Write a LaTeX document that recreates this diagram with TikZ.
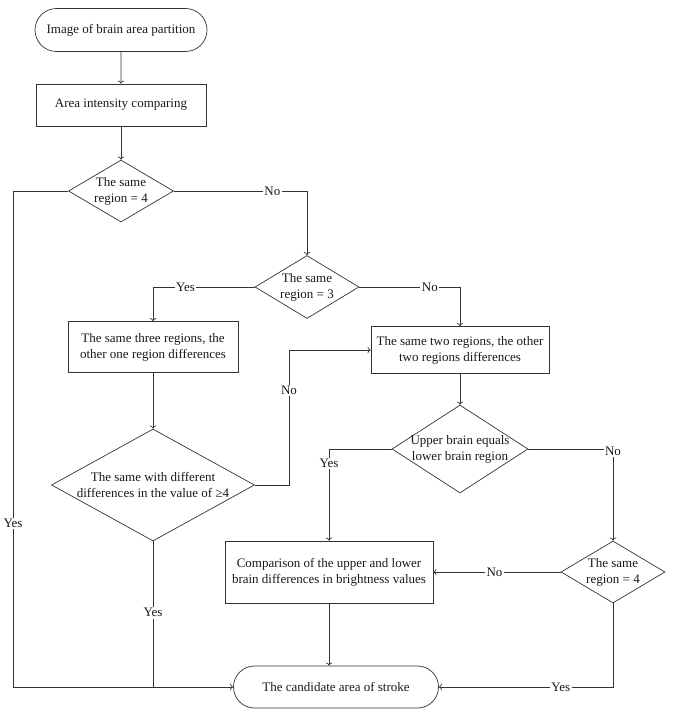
\documentclass[tikz,border=0pt]{standalone}
\usepackage{fontspec}
\setmainfont{Liberation Serif}
\usetikzlibrary{shapes.geometric,shapes.misc,arrows.meta}

\begin{document}
\begin{tikzpicture}[x=1pt,y=-1pt,
  every node/.style={font=\fontsize{13}{16}\selectfont,align=center,text=black!90},
  flowline/.style={draw=black!80,line width=0.7pt},
  term/.style={rounded rectangle,draw=black!80,line width=0.7pt,inner sep=0pt},
  proc/.style={rectangle,draw=black!80,line width=0.7pt,inner sep=0pt},
  decide/.style={diamond,draw=black!80,line width=0.7pt,inner sep=-40pt},
  lbl/.style={fill=white,inner sep=1.5pt}]
\useasboundingbox (0,0) rectangle (673,717);
\node[term,minimum width=172pt,minimum height=43pt] (start) at (121,30) {Image of brain area partition};
\node[proc,minimum width=170pt,minimum height=42pt] (cmp) at (121,105) {Area intensity comparing};
\node[decide,minimum width=105pt,minimum height=62pt] (same4) at (121,191) {The same\\region = 4};
\node[decide,minimum width=104pt,minimum height=63pt] (same3) at (307,287) {The same\\region = 3};
\node[proc,minimum width=170pt,minimum height=51pt] (three) at (153,347) {The same three regions, the\\other one region differences};
\node[proc,minimum width=178pt,minimum height=47pt] (two) at (460,350) {The same two regions, the other\\two regions differences};
\node[decide,minimum width=203pt,minimum height=112pt] (diffs) at (153,485) {The same with different\\differences in the value of ≥4};
\node[decide,minimum width=136pt,minimum height=88pt] (updown) at (460,449) {Upper brain equals\\lower brain region};
\node[decide,minimum width=104pt,minimum height=62pt] (same4b) at (613,572) {The same\\region = 4};
\node[proc,minimum width=208pt,minimum height=62pt] (bright) at (329,572) {Comparison of the upper and lower\\brain differences in brightness values};
\node[term,minimum width=205pt,minimum height=42pt] (stroke) at (336,687) {The candidate area of stroke};
\coordinate (leftrail) at (13,687);
\coordinate (noturn) at (289,350);

\draw[flowline,->] (start) -- (cmp);
\draw[flowline,->] (cmp) -- (same4);
\draw[flowline,->] (same4.east) -| node[lbl,pos=0.37]{No} (same3.north);
\draw[flowline,->] (same4.west) -| node[lbl,pos=0.835]{Yes} (leftrail) -- (stroke.west);
\draw[flowline,->] (same3.west) -| node[lbl,pos=0.34]{Yes} (three.north);
\draw[flowline,->] (same3.east) -| node[lbl,pos=0.35]{No} (two.north);
\draw[flowline,->] (three) -- (diffs);
\draw[flowline,->] (diffs.east) -| node[lbl,pos=0.85]{No} (noturn) -- (two.west);
\draw[flowline] (diffs.south) -- node[lbl,pos=0.49]{Yes} (diffs.south |- stroke.west);
\draw[flowline,->] (two) -- (updown);
\draw[flowline,->] (updown.west) -| node[lbl,pos=0.58]{Yes} (bright.north);
\draw[flowline,->] (updown.east) -| node[lbl,pos=0.51]{No} (same4b.north);
\draw[flowline,->] (same4b.west) -- node[lbl,pos=0.52]{No} (bright.east);
\draw[flowline,->] (same4b.south) |- node[lbl,pos=0.65]{Yes} (stroke.east);
\draw[flowline,->] (bright) -- (bright.south |- stroke.north);
\end{tikzpicture}
\end{document}
